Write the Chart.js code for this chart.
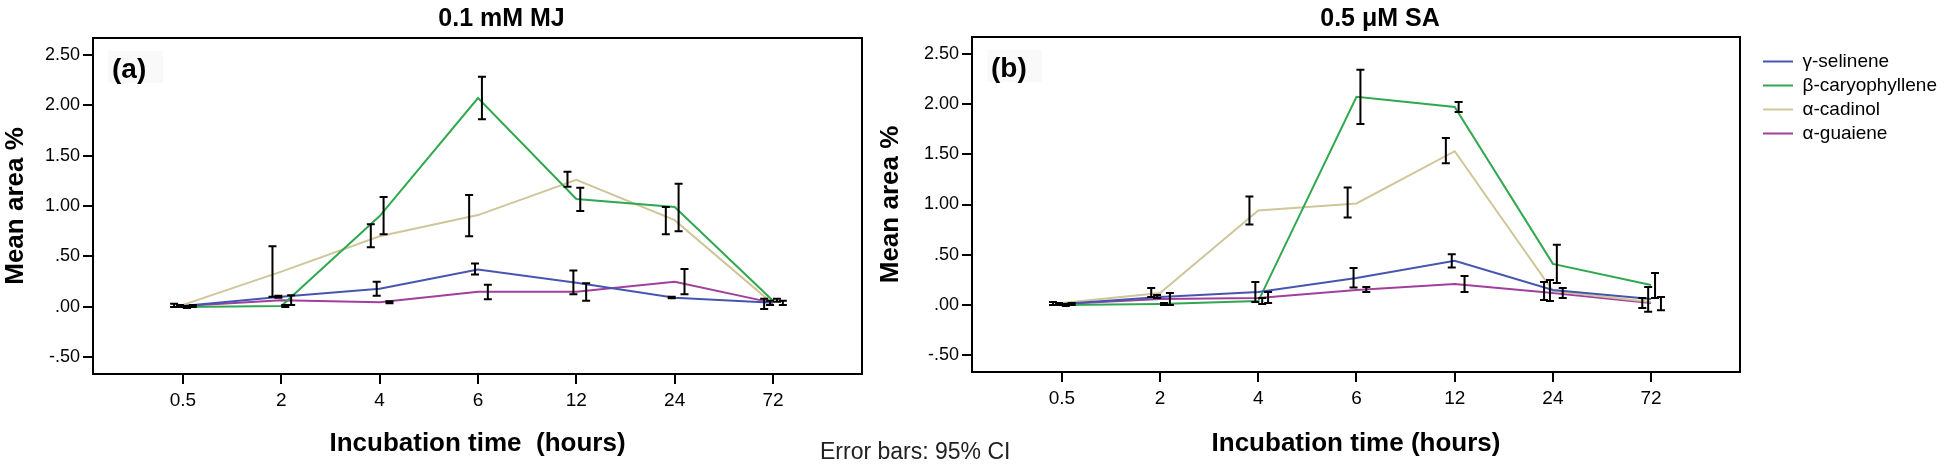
<!DOCTYPE html>
<html>
<head>
<meta charset="utf-8">
<script src="https://cdn.jsdelivr.net/npm/chart.js@4.4.1/dist/chart.umd.min.js"></script>
<style>
  html, body { margin: 0; padding: 0; background: #fff; }
  body { width: 1946px; height: 464px; position: relative; overflow: hidden; }
  #wrapA { position: absolute; left: 0; top: 0; width: 870px; height: 464px; }
  #wrapB { position: absolute; left: 875px; top: 0; width: 1071px; height: 464px; }
  #note { position: absolute; left: 820px; top: 440px; font: 23px "Liberation Sans", Arial, sans-serif; line-height: 23px; color: #222; white-space: nowrap; }
</style>
</head>
<body>
<div id="wrapA"><canvas id="chartA"></canvas></div>
<div id="wrapB"><canvas id="chartB"></canvas></div>
<div id="note">Error bars: 95% CI</div>
<script>
// categories and ticks
const hours = ["0.5", "2", "4", "6", "12", "24", "72"];
const compounds = ["γ-selinene", "β-caryophyllene", "α-cadinol", "α-guaiene"];
const yTicks = [-0.5, 0, 0.5, 1, 1.5, 2, 2.5];

// (a) 0.1 mM MJ - means and 95% CI [low, high]
const mjSelinene = [0.01, 0.10, 0.18, 0.37, 0.24, 0.09, 0.04];
const mjSelineneCI = [[0.00, 0.02], [0.09, 0.11], [0.11, 0.25], [0.32, 0.43], [0.125, 0.36], [0.085, 0.10], [0.02, 0.06]];
const mjCaryophyllene = [0.00, 0.01, 0.90, 2.07, 1.07, 0.99, 0.06];
const mjCaryophylleneCI = [[-0.01, 0.01], [0.00, 0.02], [0.72, 1.09], [1.86, 2.28], [0.95, 1.18], [0.75, 1.22], [0.05, 0.08]];
const mjCadinol = [0.02, 0.35, 0.70, 0.91, 1.26, 0.86, 0.03];
const mjCadinolCI = [[0.00, 0.03], [0.10, 0.60], [0.59, 0.82], [0.70, 1.11], [1.19, 1.34], [0.72, 0.99], [-0.02, 0.08]];
const mjGuaiene = [0.01, 0.065, 0.045, 0.15, 0.15, 0.25, 0.04];
const mjGuaieneCI = [[0.00, 0.02], [0.02, 0.115], [0.035, 0.055], [0.075, 0.22], [0.06, 0.235], [0.125, 0.375], [0.02, 0.06]];

// (b) 0.5 µM SA
const saSelinene = [0.01, 0.08, 0.13, 0.27, 0.44, 0.15, 0.06];
const saSelineneCI = [[0.00, 0.02], [0.07, 0.10], [0.03, 0.23], [0.175, 0.37], [0.375, 0.505], [0.04, 0.25], [-0.065, 0.18]];
const saCaryophyllene = [0.00, 0.01, 0.04, 2.07, 1.97, 0.41, 0.20];
const saCaryophylleneCI = [[-0.01, 0.01], [0.00, 0.02], [0.01, 0.07], [1.80, 2.34], [1.92, 2.02], [0.22, 0.60], [0.07, 0.32]];
const saCadinol = [0.02, 0.12, 0.94, 1.01, 1.53, 0.14, 0.03];
const saCadinolCI = [[0.00, 0.03], [0.08, 0.17], [0.80, 1.08], [0.87, 1.17], [1.41, 1.66], [0.05, 0.23], [-0.03, 0.07]];
const saGuaiene = [0.01, 0.06, 0.07, 0.15, 0.21, 0.12, 0.02];
const saGuaieneCI = [[0.00, 0.02], [0.00, 0.12], [0.02, 0.13], [0.13, 0.18], [0.13, 0.29], [0.07, 0.17], [-0.05, 0.08]];

const lineColors = ["#4656b0", "#2fa84f", "#cfc69a", "#a23f9c"];
const dodge = [-0.03, 0.04, -0.09, 0.10]; // error bars sit a bit off the category, like SPSS
const FONT = '"Liberation Sans", Arial, sans-serif';

Chart.defaults.font.family = FONT;
Chart.defaults.color = "#000";

// 95% CI whiskers
const errorBars = {
  id: "errorBars",
  afterDatasetsDraw(chart, args, o) {
    const { ctx, scales: { x, y } } = chart;
    ctx.save();
    ctx.strokeStyle = "#000";
    ctx.lineWidth = 2;
    chart.data.datasets.forEach((ds, di) => {
      ds.ci.forEach(([lo, hi], i) => {
        const px = x.getPixelForValue(i + dodge[di]);
        const yl = y.getPixelForValue(lo);
        const yh = y.getPixelForValue(hi);
        ctx.beginPath();
        ctx.moveTo(px, yl); ctx.lineTo(px, yh);
        ctx.moveTo(px - 4, yl); ctx.lineTo(px + 4, yl);
        ctx.moveTo(px - 4, yh); ctx.lineTo(px + 4, yh);
        ctx.stroke();
      });
    });
    ctx.restore();
  }
};

// box frame, panel title and (a)/(b) letter
const panelText = {
  id: "panelText",
  afterDraw(chart, args, o) {
    const { ctx, chartArea: a } = chart;
    ctx.save();
    ctx.strokeStyle = "#000";
    ctx.lineWidth = 2;
    ctx.strokeRect(a.left, a.top, a.right - a.left, a.bottom - a.top);

    ctx.fillStyle = "#f9f9f9";
    ctx.fillRect(a.left + 15, a.top + 13, 55, 32);
    ctx.fillStyle = "#000";
    ctx.textAlign = "left";
    ctx.textBaseline = "middle";
    ctx.font = "bold 28px " + FONT;
    ctx.fillText(o.letter, a.left + 19, a.top + 32);

    ctx.textAlign = "center";
    ctx.font = "bold 25px " + FONT;
    ctx.fillText(o.title, (a.left + a.right) / 2 + 24, 19);
    ctx.restore();
  }
};

// legend: fixed width, nudged to where SPSS puts it
const legendFix = {
  id: "legendFix",
  beforeLayout(chart, args, o) {
    const lg = chart.legend;
    if (!lg || lg._fixed) return;
    const fit = lg.fit;
    lg.fit = function () { fit.call(this); this.width = o.width; };
    lg._fixed = true;
  },
  afterLayout(chart, args, o) {
    const lg = chart.legend;
    if (!lg) return;
    lg.left += o.dx; lg.right += o.dx;
    lg.top += o.dy; lg.bottom += o.dy;
  }
};

function fmtY(v) {
  return v.toFixed(2).replace(/^(-?)0\./, "$1.");
}

function makeChart(id, series, opts) {
  const datasets = series.map((s, i) => ({
    label: compounds[i],
    data: s.mean.map((v, k) => ({ x: k, y: v })),
    ci: s.ci,
    borderColor: lineColors[i],
    backgroundColor: lineColors[i],
    borderWidth: 2,
    pointRadius: 0,
    tension: 0,
    fill: false
  }));

  return new Chart(document.getElementById(id), {
    type: "line",
    data: { datasets },
    options: {
      responsive: true,
      maintainAspectRatio: false,
      animation: false,
      layout: { padding: { top: opts.top, right: opts.right, bottom: 0, left: 0 } },
      scales: {
        x: {
          type: "linear",
          min: -0.915,
          max: 6.905,
          afterBuildTicks: (s) => { s.ticks = hours.map((h, i) => ({ value: i })); },
          afterFit: (s) => { s.height = opts.xHeight; },
          ticks: {
            callback: (v) => hours[v],
            font: { size: 19 },
            padding: 5,
            maxRotation: 0,
            autoSkip: false
          },
          grid: { drawOnChartArea: false, drawTicks: true, tickLength: 10, color: "#000", lineWidth: 2 },
          border: { display: true, color: "#000", width: 2 },
          title: {
            display: true,
            text: opts.xTitle,
            font: { size: 26, weight: "bold" },
            padding: { top: 0, bottom: 5 }
          }
        },
        y: {
          min: -0.665,
          max: 2.665,
          afterBuildTicks: (s) => { s.ticks = yTicks.map((v) => ({ value: v })); },
          afterFit: (s) => { s.width = opts.yWidth; },
          ticks: { callback: (v) => fmtY(v), font: { size: 18 }, padding: 3 },
          grid: { drawOnChartArea: false, drawTicks: true, tickLength: 10, color: "#000", lineWidth: 2 },
          border: { display: true, color: "#000", width: 2 },
          title: {
            display: true,
            text: "Mean area %",
            font: { size: 26, weight: "bold" },
            padding: { top: 0, bottom: 0 }
          }
        }
      },
      plugins: {
        legend: opts.legend ? {
          display: true,
          position: "right",
          align: "start",
          labels: {
            usePointStyle: true,
            pointStyle: "line",
            pointStyleWidth: 30,
            font: { size: 19 },
            color: "#000",
            padding: 5
          }
        } : { display: false },
        tooltip: { enabled: false },
        panelText: { title: opts.title, letter: opts.letter },
        legendFix: { width: 206, dx: 18, dy: 10 }
      }
    },
    plugins: [errorBars, panelText, legendFix]
  });
}

makeChart("chartA", [
  { mean: mjSelinene, ci: mjSelineneCI },
  { mean: mjCaryophyllene, ci: mjCaryophylleneCI },
  { mean: mjCadinol, ci: mjCadinolCI },
  { mean: mjGuaiene, ci: mjGuaieneCI }
], { title: "0.1 mM MJ", letter: "(a)", xTitle: "Incubation time  (hours)", top: 38, right: 8, xHeight: 90, yWidth: 93, legend: false });

makeChart("chartB", [
  { mean: saSelinene, ci: saSelineneCI },
  { mean: saCaryophyllene, ci: saCaryophylleneCI },
  { mean: saCadinol, ci: saCadinolCI },
  { mean: saGuaiene, ci: saGuaieneCI }
], { title: "0.5 μM SA", letter: "(b)", xTitle: "Incubation time (hours)", top: 37, right: 0, xHeight: 92, yWidth: 97, legend: true });
</script>
</body>
</html>
